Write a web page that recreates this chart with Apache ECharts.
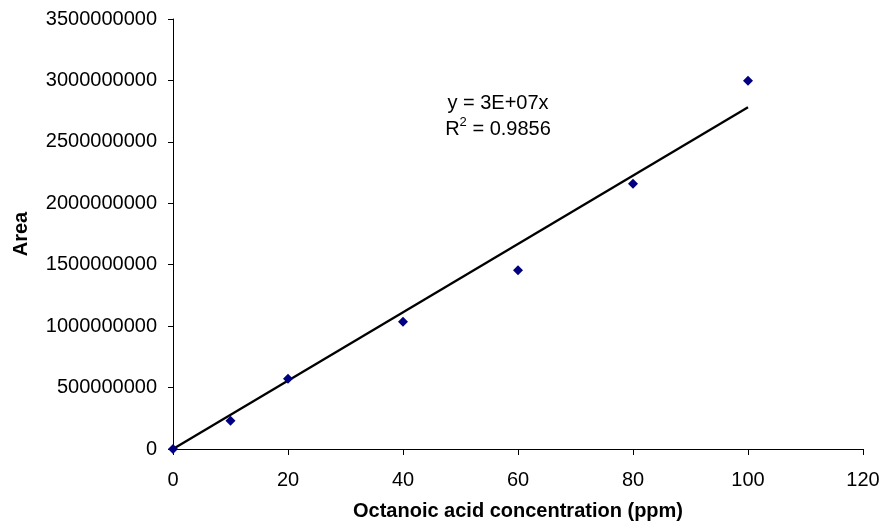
<!DOCTYPE html>
<html>
<head>
<meta charset="utf-8">
<script src="https://cdn.jsdelivr.net/npm/echarts@6/dist/echarts.min.js"></script>
<style>html,body{margin:0;padding:0;background:#fff}#c{width:885px;height:529px}</style>
</head>
<body>
<div id="c"></div>
<script>
var concentrations = [0, 10, 20, 40, 60, 80, 100];
var areas = [0, 230000000, 572000000, 1036000000, 1454000000, 2159000000, 2998000000];
var equationLine = 'y = 3E+07x';
var r2Value = '0.9856';
var xTitle = 'Octanoic acid concentration (ppm)';
var yTitle = 'Area';

// least squares through origin (Excel trendline with intercept = 0)
var sxy = 0, sxx = 0;
for (var i = 0; i < concentrations.length; i++) { sxy += concentrations[i] * areas[i]; sxx += concentrations[i] * concentrations[i]; }
var slope = sxy / sxx;
var xMin = concentrations[0], xMax = concentrations[concentrations.length - 1];
var trend = [[xMin, slope * xMin], [xMax, slope * xMax]];
var points = concentrations.map(function (x, i) { return [x, areas[i]]; });

var font = 'Liberation Sans, Arial, sans-serif';
var chart = echarts.init(document.getElementById('c'), null, {renderer: 'canvas'});
chart.setOption({
  animation: false,
  backgroundColor: '#fff',
  grid: {left: 173, right: 22, top: 19, bottom: 80, containLabel: false, outerBoundsMode: 'none'},
  xAxis: {
    type: 'value', min: 0, max: 120, interval: 20,
    name: xTitle, nameLocation: 'middle', nameGap: 52,
    nameTextStyle: {fontFamily: font, fontSize: 20, fontWeight: 'bold', color: '#000'},
    axisLine: {onZero: false, lineStyle: {color: '#000', width: 1}},
    axisTick: {show: true, length: 6, lineStyle: {color: '#000'}},
    axisLabel: {fontFamily: font, fontSize: 20, color: '#000', margin: 21},
    splitLine: {show: false}
  },
  yAxis: {
    type: 'value', min: 0, max: 3500000000, interval: 500000000,
    name: yTitle, nameLocation: 'middle', nameGap: 142,
    nameTextStyle: {fontFamily: font, fontSize: 20, fontWeight: 'bold', color: '#000'},
    axisLine: {show: true, lineStyle: {color: '#000', width: 1}},
    axisTick: {show: true, length: 5, lineStyle: {color: '#000'}},
    axisLabel: {fontFamily: font, fontSize: 20, color: '#000', margin: 16,
      formatter: function (v) { return String(Math.round(v)); }},
    splitLine: {show: false}
  },
  series: [
    {
      type: 'line', data: trend, showSymbol: false, symbol: 'none',
      lineStyle: {color: '#000', width: 2.3}, z: 2, silent: true
    },
    {
      type: 'scatter', data: points, symbol: 'diamond', symbolSize: [10, 10],
      itemStyle: {color: '#000080', opacity: 1}, z: 3
    }
  ],
  graphic: [
    {
      type: 'text', x: 498, y: 90,
      style: {
        text: '{r|' + equationLine + '}\n{r|R}{sup|2}{r| = ' + r2Value + '}',
        rich: {
          r: {fontFamily: font, fontSize: 20, fill: '#000', lineHeight: 26},
          sup: {fontFamily: font, fontSize: 13, fill: '#000', verticalAlign: 'top', lineHeight: 26, padding: [0, 0, 8, 0]}
        },
        fontFamily: font, fontSize: 20, fill: '#000', align: 'center', verticalAlign: 'top'
      }
    }
  ]
});
</script>
</body>
</html>
